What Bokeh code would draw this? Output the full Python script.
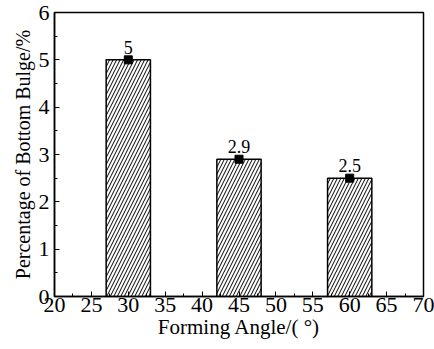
from bokeh.plotting import figure
from bokeh.models import Range1d, FixedTicker, ColumnDataSource, LabelSet
from bokeh.core.properties import value
from bokeh.embed import file_html
from bokeh.resources import INLINE

# Forming angle (degrees) and bottom bulge percentage
angles = [30, 45, 60]
bulge = [5.0, 2.9, 2.5]
bulge_labels = ["5", "2.9", "2.5"]
x_ticks = [20, 25, 30, 35, 40, 45, 50, 55, 60, 65, 70]
y_ticks = [0, 1, 2, 3, 4, 5, 6]

FONT = "Liberation Serif"

src = ColumnDataSource(dict(x=angles, y=bulge, lbl=bulge_labels))

p = figure(width=434, height=349, output_backend="svg", toolbar_location=None,
           x_range=Range1d(20, 70), y_range=Range1d(0, 6),
           min_border_left=54, min_border_right=11, min_border_top=12,
           min_border_bottom=53)
p.background_fill_color = "white"
p.border_fill_color = "white"
p.grid.visible = False
p.outline_line_color = "black"
p.outline_line_width = 1.5

p.vbar(x="x", top="y", bottom=0, width=6, source=src,
       fill_color="white", line_color="black", line_width=1.5,
       hatch_pattern="/", hatch_color="black", hatch_scale=7, hatch_weight=1)
p.scatter(x="x", y="y", source=src, marker="square", size=8, color="black")

labels = LabelSet(x="x", y="y", text="lbl", source=src, text_align="center",
                  text_baseline="alphabetic", y_offset=6,
                  text_font=value(FONT), text_font_size=value("18px"),
                  text_color="black")
p.add_layout(labels)

p.xaxis.ticker = FixedTicker(ticks=x_ticks, minor_ticks=[22.5 + 5 * i for i in range(10)])
p.yaxis.ticker = FixedTicker(ticks=y_ticks, minor_ticks=[0.5 + i for i in range(6)])

for ax in (p.xaxis, p.yaxis):
    ax.axis_line_color = "black"
    ax.axis_line_width = 1.5
    ax.major_tick_in = 5
    ax.major_tick_out = 0
    ax.minor_tick_in = 3
    ax.minor_tick_out = 0
    ax.major_tick_line_color = "black"
    ax.minor_tick_line_color = "black"
    ax.major_label_text_font = FONT
    ax.major_label_text_font_size = "22px"
    ax.major_label_text_color = "black"
    ax.axis_label_text_font = FONT
    ax.axis_label_text_font_style = "normal"
    ax.axis_label_text_color = "black"

p.xaxis.axis_label_text_font_size = "21px"
p.yaxis.axis_label_text_font_size = "20px"
p.xaxis.axis_label = "Forming Angle/( °)"
p.yaxis.axis_label = "Percentage of Bottom Bulge/%"
p.xaxis.major_label_standoff = 1
p.yaxis.major_label_standoff = 5
p.xaxis.axis_label_standoff = 0
p.yaxis.axis_label_standoff = 2

open("out.html", "w").write(file_html(p, INLINE))
